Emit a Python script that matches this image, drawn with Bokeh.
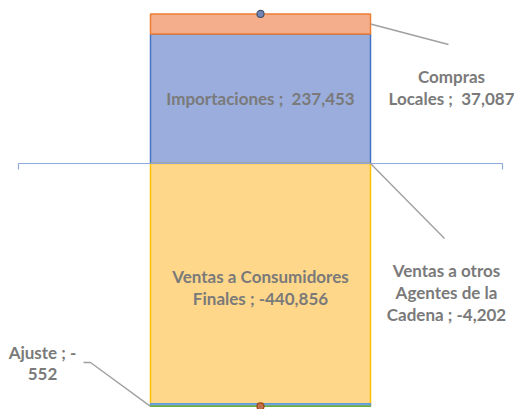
from bokeh.plotting import figure
from bokeh.models import Range1d, ColumnDataSource
from bokeh.embed import file_html
from bokeh.resources import INLINE
from bokeh.core.properties import value

# ---- data ----
series = ["Importaciones", "Compras Locales", "Ventas a Consumidores Finales",
          "Ventas a otros Agentes de la Cadena", "Ajuste"]
values = [237453, 37087, -440856, -4202, -552]
label_texts = ["Importaciones ;\u00a0 237,453",
               "Compras\nLocales ;\u00a0 37,087",
               "Ventas a Consumidores\nFinales ; -440,856",
               "Ventas a otros\nAgentes de la\nCadena ; -4,202",
               "Ajuste ; -\n552"]

# ---- styles ----
fill_colors = ["#9AADDD", "#F5AE8C", "#FFD78A", "#8DB7E3", "#A5CB8C"]
line_colors = ["#4472C4", "#ED7D31", "#FFC000", "#5B9BD5", "#70AD47"]
TEXT_COLOR = "#7A7A7A"
LEADER_COLOR = "#A0A0A0"
AXIS_COLOR = "#8EA9DB"

W, H = 514, 409
LEFT_PAD, RIGHT_PAD = 18, 12
FRAME_W = W - LEFT_PAD - RIGHT_PAD  # category extent in px
PX_PER_UNIT = 0.545 / 1000.0        # px per value unit
ZERO_PX = 163                        # px from top of plot to zero line

# stacking
pos = 0.0
neg = 0.0
bottoms, tops = [], []
for v in values:
    if v >= 0:
        bottoms.append(pos); tops.append(pos + v); pos += v
    else:
        tops.append(neg); bottoms.append(neg + v); neg += v

p = figure(width=W, height=H, output_backend="svg", toolbar_location=None,
           x_range=Range1d(-LEFT_PAD / FRAME_W, 1 + RIGHT_PAD / FRAME_W),
           y_range=Range1d(-(H - ZERO_PX) / PX_PER_UNIT, ZERO_PX / PX_PER_UNIT),
           x_axis_location=None, y_axis_location=None, min_border=0)
p.grid.visible = False
p.outline_line_color = None
p.background_fill_color = "white"
p.border_fill_color = "white"

bar_w = 220.0 / FRAME_W
src = ColumnDataSource(dict(x=[0.5] * len(values), top=tops, bottom=bottoms,
                            fill=fill_colors, line=line_colors))
p.vbar(x="x", top="top", bottom="bottom", width=bar_w, source=src,
       fill_color="fill", line_color="line", line_width=1.5)

# zero axis line with end ticks
tick_len = 6 / PX_PER_UNIT
p.segment(x0=[0], y0=[0], x1=[1], y1=[0], line_color=AXIS_COLOR, line_width=1.2)
p.segment(x0=[0, 1], y0=[0, 0], x1=[0, 1], y1=[-tick_len, -tick_len],
          line_color=AXIS_COLOR, line_width=1.2)

# total markers
p.scatter(x=[0.5], y=[pos], size=7, marker="circle", fill_color="#6F86B8",
          line_color="#44546A", line_width=1.2)
p.scatter(x=[0.5], y=[neg], size=7, marker="circle", fill_color="#C0704F",
          line_color="#9E480E", line_width=1.2)

bar_r = 0.5 + bar_w / 2
bar_l = 0.5 - bar_w / 2
def px_x(px):
    return (px - LEFT_PAD) / FRAME_W
def px_y(py):
    return (ZERO_PX - py) / PX_PER_UNIT

# leader lines
p.line(x=[bar_r, px_x(448)], y=[(bottoms[1] + tops[1]) / 2, px_y(44)],
       line_color=LEADER_COLOR, line_width=1.4)
p.line(x=[bar_r, px_x(444)], y=[0, px_y(238)],
       line_color=LEADER_COLOR, line_width=1.4)
p.line(x=[bar_l, px_x(90), px_x(83)], y=[neg, px_y(362), px_y(362)],
       line_color=LEADER_COLOR, line_width=1.4)

# labels
lx = [0.5, px_x(451), 0.5, px_x(446), px_x(42)]
ly = [(bottoms[0] + tops[0]) / 2, px_y(87), px_y(287), px_y(292), px_y(362.5)]
p.text(x=lx, y=ly, text=label_texts, text_font=value("Lato"),
       text_font_style="bold", text_font_size="17px", text_color=TEXT_COLOR,
       text_align="center", text_baseline="middle", text_line_height=1.03)

open("out.html", "w").write(file_html(p, INLINE))
